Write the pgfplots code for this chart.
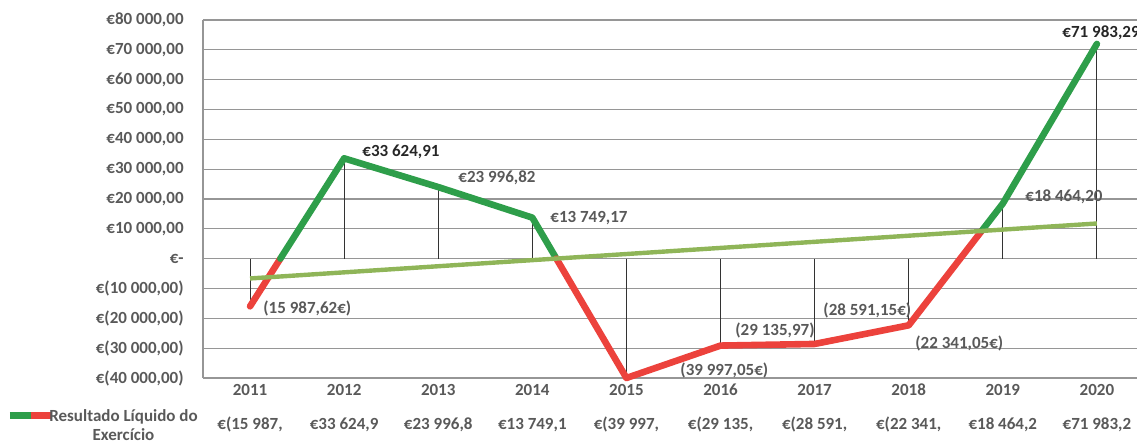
\documentclass[border=0pt]{standalone}
\usepackage{pgfplots}
\pgfplotsset{compat=1.18}
\usepackage{fontspec}
\setmainfont{Carlito}
\definecolor{posgreen}{RGB}{46,158,74}
\definecolor{negred}{RGB}{236,66,60}
\definecolor{trendgreen}{RGB}{143,181,88}
\definecolor{txtgrey}{RGB}{89,89,89}
\definecolor{gridgrey}{RGB}{150,150,150}
\begin{document}
\begin{tikzpicture}
\useasboundingbox (-101.5pt,-32.5pt) rectangle (467pt,189pt);
\begin{axis}[
  at={(0pt,0pt)}, anchor=south west,
  scale only axis, width=467pt, height=179pt,
  xmin=-0.5, xmax=9.426, ymin=-40000, ymax=80000,
  clip=false,
  scaled y ticks=false,
  axis x line*=bottom, axis y line*=left,
  axis line style={gridgrey, line width=0.6pt, -},
  ymajorgrids, major grid style={gridgrey, line width=0.6pt},
  major tick length=0pt,
  xtick={0,...,9},
  xticklabels={2011,2012,2013,2014,2015,2016,2017,2018,2019,2020},
  ytick={-40000,-30000,-20000,-10000,0,10000,20000,30000,40000,50000,60000,70000,80000},
  yticklabels={{€(40 000,00)},{€(30 000,00)},{€(20 000,00)},{€(10 000,00)},{€-},{€10 000,00},{€20 000,00},{€30 000,00},{€40 000,00},{€50 000,00},{€60 000,00},{€70 000,00},{€80 000,00}},
  ticklabel style={font=\fontsize{8.5}{10}\selectfont\bfseries, text=txtgrey, inner sep=0pt},
  yticklabel style={anchor=east, xshift=-9.5pt},
  xticklabel style={anchor=base, yshift=-8.75pt},
]
% drop lines
\addplot[ycomb, black!80, line width=0.5pt, no marks] coordinates {
(0,-15987.62) (1,33624.91) (2,23996.82) (3,13749.17) (4,-39997.05)
(5,-29135.97) (6,-28591.15) (7,-22341.05) (8,18464.20) (9,71983.29)};
% main series, coloured by sign
\addplot[negred, line width=3.3pt, line join=round, line cap=round, no marks] coordinates {
(0,-15987.62) (0.322,0)};
\addplot[posgreen, line width=3.3pt, line join=round, line cap=round, no marks] coordinates {
(0.322,0) (1,33624.91) (2,23996.82) (3,13749.17) (3.256,0)};
\addplot[negred, line width=3.3pt, line join=round, line cap=round, no marks] coordinates {
(3.256,0) (4,-39997.05) (5,-29135.97) (6,-28591.15) (7,-22341.05) (7.78,9487)};
\addplot[posgreen, line width=3.3pt, line join=round, line cap=round, no marks] coordinates {
(7.78,9487) (8,18464.20) (9,71983.29)};
% linear trendline
\addplot[trendgreen, line width=2.2pt, no marks] coordinates {(0,-6635) (9,11788)};
% data labels
\begin{scope}[every node/.style={anchor=west, inner sep=0pt, font=\fontsize{8.5}{10}\selectfont\bfseries, text=txtgrey}]
\node at (axis cs:0.138,-16538) {(15 987,62€)};
\node[text=black!85] at (axis cs:1.19,35754) {€33 624,91};
\node at (axis cs:2.21,27040) {€23 996,82};
\node at (axis cs:3.188,13630) {€13 749,17};
\node at (axis cs:4.570,-37320) {(39 997,05€)};
\node at (axis cs:5.154,-23912) {(29 135,97)};
\node at (axis cs:6.090,-17208) {(28 591,15€)};
\node at (axis cs:7.067,-28270) {(22 341,05€)};
\node at (axis cs:8.236,20670) {€18 464,20};
\node[text=black!85] at (axis cs:8.630,75642) {€71 983,29};
\end{scope}
% data table row
\begin{scope}[every node/.style={anchor=base, inner sep=0pt, font=\fontsize{8.5}{10}\selectfont\bfseries, text=txtgrey, yshift=-26pt}]
\node at (axis cs:0,-40000) {€(15 987,};
\node at (axis cs:1,-40000) {€33 624,9};
\node at (axis cs:2,-40000) {€23 996,8};
\node at (axis cs:3,-40000) {€13 749,1};
\node at (axis cs:4,-40000) {€(39 997,};
\node at (axis cs:5,-40000) {€(29 135,};
\node at (axis cs:6,-40000) {€(28 591,};
\node at (axis cs:7,-40000) {€(22 341,};
\node at (axis cs:8,-40000) {€18 464,2};
\node at (axis cs:9,-40000) {€71 983,2};
\end{scope}
\end{axis}
% legend of the data table
\draw[posgreen, line width=3.5pt] (-96.5pt,-19pt) -- (-86pt,-19pt);
\draw[negred, line width=3.5pt] (-86pt,-19pt) -- (-75.5pt,-19pt);
\node[align=center, inner sep=0pt, font=\fontsize{8.5}{9.5}\selectfont\bfseries, text=txtgrey] at (-39.75pt,-23.75pt) {Resultado Líquido do\\Exercício};
\end{tikzpicture}
\end{document}
